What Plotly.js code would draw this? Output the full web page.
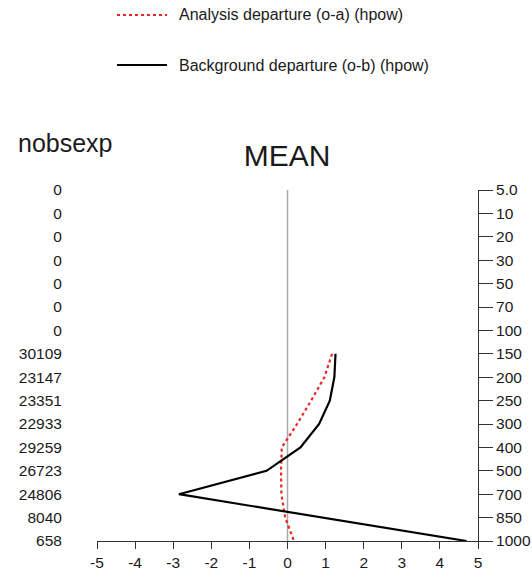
<!DOCTYPE html>
<html>
<head>
<meta charset="utf-8">
<script src="https://cdn.plot.ly/plotly-3.0.1.min.js"></script>
<style>html,body{margin:0;padding:0;background:#fff;}#chart{width:532px;height:570px;}</style>
</head>
<body>
<div id="chart"></div>
<script>
// Pressure levels (hPa), top to bottom
const levels = ["5.0","10","20","30","50","70","100","150","200","250","300","400","500","700","850","1000"];
// Number of observations per level (left labels)
const nobsexp = ["0","0","0","0","0","0","0","30109","23147","23351","22933","29259","26723","24806","8040","658"];
// Levels where departures exist
const obsLevels = ["150","200","250","300","400","500","700","850","1000"];
// Analysis departure (o-a)
const analysisDep = [1.17, 0.97, 0.62, 0.25, -0.15, -0.17, -0.16, -0.06, 0.17];
// Background departure (o-b)
const backgroundDep = [1.26, 1.23, 1.11, 0.83, 0.34, -0.55, -2.85, 0.9, 4.7];
// X tick values
const xTicks = [-5, -4, -3, -2, -1, 0, 1, 2, 3, 4, 5];
const seriesNames = ["Analysis departure (o-a) (hpow)", "Background departure (o-b) (hpow)"];

const levelIndex = levels.map((_, i) => i);
const obsY = obsLevels.map(l => levels.indexOf(l));

const FONT = "Liberation Sans, Arial, Helvetica, sans-serif";
const TXT = "#1a1a1a";
const RED = "#e8262a";

// plot area in pixels (for placing the out-of-plot legend/labels)
const M = {l: 97, r: 54, t: 190, b: 29};
const W = 532, H = 570;
const PW = W - M.l - M.r, PH = H - M.t - M.b;
const px = v => (v - M.l) / PW;
const py = v => (H - M.b - v) / PH;

const traces = [
  {
    x: analysisDep, y: obsY, type: "scatter", mode: "lines",
    name: seriesNames[0],
    line: {color: RED, width: 2.2, dash: "dot"}
  },
  {
    x: backgroundDep, y: obsY, type: "scatter", mode: "lines",
    name: seriesNames[1],
    line: {color: "#000000", width: 2.2}
  },
  // invisible trace to activate the left (nobsexp) axis
  {x: [0], y: [0], yaxis: "y2", type: "scatter", mode: "markers",
   marker: {opacity: 0}, showlegend: false, hoverinfo: "skip"}
];

const layout = {
  width: W, height: H,
  margin: M,
  paper_bgcolor: "#ffffff", plot_bgcolor: "#ffffff",
  font: {family: FONT, color: TXT, size: 15.5},
  title: {
    text: "MEAN", font: {family: FONT, size: 30, color: TXT},
    x: 287/W, xanchor: "center", y: 1 - 155/H, yanchor: "middle"
  },
  showlegend: false,
  xaxis: {
    range: [-5, 5], tickvals: xTicks, ticktext: xTicks.map(String),
    showgrid: false, zeroline: false,
    showline: true, linecolor: "#333", linewidth: 1,
    ticks: "outside", ticklen: 7, tickcolor: "#333", tickwidth: 1,
    tickfont: {family: FONT, size: 15.5, color: TXT}
  },
  yaxis: {
    range: [15, 0], tickmode: "array", tickvals: levelIndex, ticktext: levels,
    side: "right", showgrid: false, zeroline: false,
    showline: true, linecolor: "#333", linewidth: 1,
    ticks: "outside", ticklen: 14, tickcolor: "#333", tickwidth: 1,
    tickfont: {family: FONT, size: 15.5, color: TXT}
  },
  yaxis2: {
    overlaying: "y", side: "left", range: [15, 0],
    tickmode: "array", tickvals: levelIndex, ticktext: nobsexp,
    showgrid: false, zeroline: false, showline: false,
    ticks: "outside", ticklen: 31, tickcolor: "rgba(0,0,0,0)",
    tickfont: {family: FONT, size: 15.5, color: TXT}
  },
  shapes: [
    {type: "line", xref: "x", yref: "paper", x0: 0, x1: 0, y0: 0, y1: 1,
     line: {color: "#aaaaaa", width: 1.5}, layer: "below"},
    // legend samples
    {type: "line", xref: "paper", yref: "paper", x0: px(117), x1: px(167), y0: py(15), y1: py(15),
     line: {color: RED, width: 1.8, dash: "dot"}},
    {type: "line", xref: "paper", yref: "paper", x0: px(117), x1: px(167), y0: py(65), y1: py(65),
     line: {color: "#000000", width: 2.2}}
  ],
  annotations: [
    {text: seriesNames[0], xref: "paper", yref: "paper", x: px(177), xanchor: "left",
     y: py(15), yanchor: "middle", showarrow: false, font: {family: FONT, size: 16, color: TXT}},
    {text: seriesNames[1], xref: "paper", yref: "paper", x: px(177), xanchor: "left",
     y: py(65), yanchor: "middle", showarrow: false, font: {family: FONT, size: 16, color: TXT}},
    {text: "nobsexp", xref: "paper", yref: "paper",
     x: px(16), xanchor: "left", y: py(143), yanchor: "middle",
     showarrow: false, font: {family: FONT, size: 25, color: TXT}}
  ]
};

Plotly.newPlot("chart", traces, layout, {displayModeBar: false, staticPlot: true});
</script>
</body>
</html>
